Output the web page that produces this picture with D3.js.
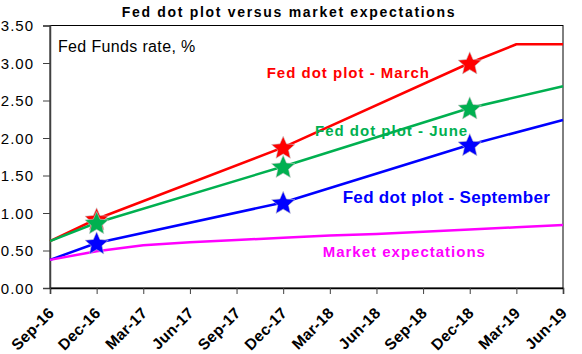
<!DOCTYPE html>
<html>
<head>
<meta charset="utf-8">
<script src="https://cdn.jsdelivr.net/npm/d3@7"></script>
<style>
  html, body { margin: 0; padding: 0; background: #fff; }
  svg { display: block; font-family: "Liberation Sans", Arial, sans-serif; }
</style>
</head>
<body>
<svg id="chart" width="582" height="354"></svg>
<script>
// ---- Data ----
const categories = ["Sep-16","Dec-16","Mar-17","Jun-17","Sep-17","Dec-17","Mar-18","Jun-18","Sep-18","Dec-18","Mar-19","Jun-19"];
const marchDots  = [0.625, 0.92, null, null, null, 1.875, null, null, null, 3.00, 3.25, 3.25];
const juneDots   = [0.625, 0.87, null, null, null, 1.62,  null, null, null, 2.40, null, 2.69];
const septDots   = [0.375, 0.60, null, null, null, 1.14,  null, null, null, 1.91, null, 2.24];
const market     = [0.375, 0.49, 0.57, 0.61, 0.64, 0.67, 0.70, 0.72, 0.75, 0.78, 0.81, 0.84];
const starCategories = ["Dec-16", "Dec-17", "Dec-18"];
const yTicks = [0, 0.5, 1, 1.5, 2, 2.5, 3, 3.5];

const seriesList = [
  { name: "Fed dot plot - March",     values: marchDots, color: "#ff0000", stars: true },
  { name: "Fed dot plot - June",      values: juneDots,  color: "#00b050", stars: true },
  { name: "Fed dot plot - September", values: septDots,  color: "#0000ff", stars: true },
  { name: "Market expectations",      values: market,    color: "#ff00ff", stars: false }
];

// ---- Layout ----
const svg = d3.select("#chart");
const pLeft = 50, pRight = 563, pTop = 25.5, pBottom = 288;

const x = d3.scalePoint().domain(categories).range([pLeft, pRight]);
const y = d3.scaleLinear().domain([0, 3.5]).range([pBottom, pTop]);

// Plot frame
svg.append("rect")
  .attr("x", pLeft).attr("y", pTop)
  .attr("width", pRight - pLeft).attr("height", pBottom - pTop)
  .attr("fill", "none").attr("stroke", "#000").attr("stroke-width", 1);

// Y axis
const yAxis = svg.append("g")
  .attr("transform", `translate(${pLeft},0)`)
  .call(d3.axisLeft(y).tickValues(yTicks).tickFormat(d3.format(".2f")).tickSize(7).tickPadding(9));
yAxis.select(".domain").attr("stroke", "#404040").attr("stroke-width", 1.5);
yAxis.selectAll(".tick line").attr("stroke", "#404040");
yAxis.selectAll(".tick text")
  .attr("font-family", "Liberation Sans, Arial, sans-serif")
  .attr("font-size", 15).attr("fill", "#000")
  .style("letter-spacing", "1px")
  .attr("dy", "0.36em");

// X axis
const xAxis = svg.append("g")
  .attr("transform", `translate(0,${pBottom})`)
  .call(d3.axisBottom(x).tickSize(6).tickFormat(""));
xAxis.select(".domain").attr("stroke", "#000").attr("stroke-width", 1.5);
xAxis.selectAll(".tick line").attr("stroke", "#404040");

svg.append("g").selectAll("text")
  .data(categories)
  .join("text")
  .attr("transform", d => `translate(${x(d) + 5},${pBottom + 26}) rotate(-45)`)
  .attr("text-anchor", "end")
  .attr("font-size", 15.5).attr("font-weight", "bold")
  .style("letter-spacing", "0.3px")
  .attr("fill", "#000")
  .text(d => d);

// Lines
const line = d3.line()
  .x(d => x(d.cat))
  .y(d => y(d.v));

seriesList.forEach(s => {
  const pts = categories.map((c, i) => ({ cat: c, v: s.values[i] })).filter(p => p.v != null);
  svg.append("path")
    .datum(pts)
    .attr("d", line)
    .attr("fill", "none")
    .attr("stroke", s.color)
    .attr("stroke-width", 2.5)
    .attr("stroke-linejoin", "round");
});

// Stars: a fuller five-point star (Excel-like proportions), size = outer radius squared
const fullStar = {
  draw(context, size) {
    const R = Math.sqrt(size), r = R * 0.46;
    for (let i = 0; i < 10; i++) {
      const a = -Math.PI / 2 + i * Math.PI / 5;
      const rad = i % 2 === 0 ? R : r;
      const px = rad * Math.cos(a), py = rad * Math.sin(a);
      if (i === 0) context.moveTo(px, py); else context.lineTo(px, py);
    }
    context.closePath();
  }
};
const star = d3.symbol().type(fullStar).size(150);
seriesList.filter(s => s.stars).forEach(s => {
  const pts = categories.map((c, i) => ({ cat: c, v: s.values[i] }))
    .filter(p => p.v != null && starCategories.includes(p.cat));
  svg.append("g").selectAll("path")
    .data(pts)
    .join("path")
    .attr("d", star)
    .attr("transform", d => `translate(${x(d.cat)},${y(d.v) + 1})`)
    .attr("fill", s.color)
    .attr("stroke", "#c8c8c8")
    .attr("stroke-width", 0.6);
});

// Title
svg.append("text")
  .attr("x", 289).attr("y", 17)
  .attr("text-anchor", "middle")
  .attr("font-size", 14).attr("font-weight", "bold")
  .style("letter-spacing", "1.7px")
  .attr("fill", "#000")
  .text("Fed dot plot versus market expectations");

// Units label
svg.append("text")
  .attr("x", 58).attr("y", 51.7)
  .attr("font-size", 16)
  .style("letter-spacing", "0.35px")
  .attr("fill", "#000")
  .text("Fed Funds rate, %");

// Series labels
const labels = [
  { text: "Fed dot plot - March",     x: 266.7, y: 77.7,  size: 15, ls: 1,   color: "#ff0000" },
  { text: "Fed dot plot - June",      x: 315,   y: 135.7, size: 15, ls: 1,   color: "#00b050" },
  { text: "Fed dot plot - September", x: 342.7, y: 202.7, size: 17, ls: 0.3, color: "#0000ff" },
  { text: "Market expectations",      x: 322.7, y: 256.7, size: 15, ls: 1,   color: "#ff00ff" }
];
svg.append("g").selectAll("text")
  .data(labels)
  .join("text")
  .attr("x", d => d.x).attr("y", d => d.y)
  .attr("font-size", d => d.size).attr("font-weight", "bold")
  .style("letter-spacing", d => d.ls + "px")
  .attr("fill", d => d.color)
  .text(d => d.text);
</script>
</body>
</html>
